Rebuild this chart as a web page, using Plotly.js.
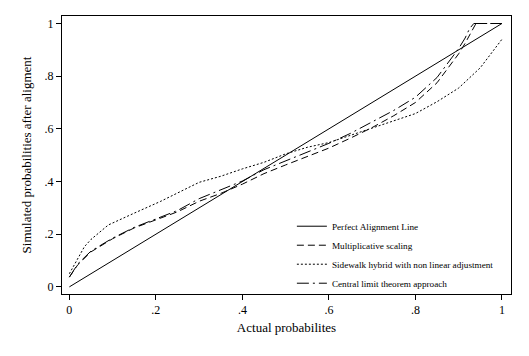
<!DOCTYPE html>
<html>
<head>
<meta charset="utf-8">
<script src="https://cdn.plot.ly/plotly-3.0.1.min.js"></script>
<style>html,body{margin:0;padding:0;background:#fff;}#chart{width:529px;height:356px;}</style>
</head>
<body>
<div id="chart"></div>
<script>
// Perfect alignment
const perfectX = [0, 1];
const perfectY = [0, 1];

// Multiplicative scaling
const multX = [0, 0.02, 0.05, 0.075, 0.1, 0.15, 0.2, 0.25, 0.3, 0.35, 0.4, 0.45, 0.5, 0.55, 0.6, 0.65, 0.7, 0.75, 0.8, 0.85, 0.875, 0.9, 0.915, 0.93, 0.94, 1];
const multY = [0.037, 0.085, 0.133, 0.158, 0.183, 0.224, 0.255, 0.285, 0.325, 0.355, 0.39, 0.43, 0.463, 0.495, 0.527, 0.565, 0.605, 0.65, 0.7, 0.775, 0.83, 0.885, 0.925, 0.97, 1.0, 1.0];

// Sidewalk hybrid with non linear adjustment
const sideX = [0, 0.02, 0.035, 0.05, 0.09, 0.15, 0.21, 0.3, 0.35, 0.4, 0.45, 0.5, 0.55, 0.6, 0.65, 0.7, 0.75, 0.8, 0.85, 0.9, 0.95, 0.98, 1];
const sideY = [0.05, 0.11, 0.153, 0.18, 0.235, 0.28, 0.324, 0.397, 0.42, 0.448, 0.473, 0.505, 0.53, 0.548, 0.575, 0.605, 0.632, 0.658, 0.703, 0.755, 0.832, 0.895, 0.94];

// Central limit theorem approach
const cltX = [0, 0.02, 0.05, 0.075, 0.1, 0.15, 0.2, 0.25, 0.3, 0.35, 0.4, 0.45, 0.5, 0.55, 0.6, 0.65, 0.7, 0.75, 0.8, 0.85, 0.875, 0.9, 0.915, 0.925, 0.935, 1];
const cltY = [0.037, 0.088, 0.136, 0.16, 0.185, 0.226, 0.258, 0.29, 0.335, 0.368, 0.402, 0.445, 0.478, 0.51, 0.545, 0.583, 0.625, 0.67, 0.72, 0.795, 0.85, 0.905, 0.945, 0.98, 1.0, 1.0];

const tickVals = [0, 0.2, 0.4, 0.6, 0.8, 1];
const tickText = ['0', '.2', '.4', '.6', '.8', '1'];

const seriesNames = ['Perfect Alignment Line', 'Multiplicative scaling', 'Sidewalk hybrid with non linear adjustment', 'Central limit theorem approach'];

const lineBase = {color: '#000', width: 1};
const traces = [
  {x: perfectX, y: perfectY, name: seriesNames[0], mode: 'lines', line: Object.assign({}, lineBase, {dash: 'solid'})},
  {x: multX, y: multY, name: seriesNames[1], mode: 'lines', line: Object.assign({}, lineBase, {dash: '7px,4px'})},
  {x: sideX, y: sideY, name: seriesNames[2], mode: 'lines', line: Object.assign({}, lineBase, {dash: '2px,2px'})},
  {x: cltX, y: cltY, name: seriesNames[3], mode: 'lines', line: Object.assign({}, lineBase, {dash: '12px,4px,2px,4px'})}
];

const fontFam = '"Liberation Serif", "Times New Roman", serif';
const axisCommon = {
  showgrid: false, zeroline: false,
  showline: true, linecolor: '#000', linewidth: 1, mirror: true,
  ticks: 'outside', ticklen: 5, tickcolor: '#000', tickwidth: 1,
  tickmode: 'array', tickvals: tickVals, ticktext: tickText,
  tickfont: {family: fontFam, size: 12, color: '#000'}
};

const layout = {
  width: 529, height: 356,
  margin: {l: 62, r: 18, t: 16, b: 62},
  paper_bgcolor: '#fff', plot_bgcolor: '#fff',
  font: {family: fontFam, color: '#000'},
  showlegend: true,
  legend: {
    x: 0.512, y: 0.296, xanchor: 'left', yanchor: 'top',
    bgcolor: 'rgba(0,0,0,0)', borderwidth: 0,
    font: {family: fontFam, size: 9.2, color: '#000'},
    tracegroupgap: 0
  },
  xaxis: Object.assign({}, axisCommon, {
    range: [-0.017, 1.021],
    title: {text: 'Actual probabilites', font: {family: fontFam, size: 13, color: '#000'}, standoff: 6}
  }),
  yaxis: Object.assign({}, axisCommon, {
    range: [-0.027, 1.0285],
    title: {text: 'Simulated probabilities after aligment', font: {family: fontFam, size: 13, color: '#000'}, standoff: 10}
  })
};

Plotly.newPlot('chart', traces, layout, {displayModeBar: false, staticPlot: true});
</script>
</body>
</html>
